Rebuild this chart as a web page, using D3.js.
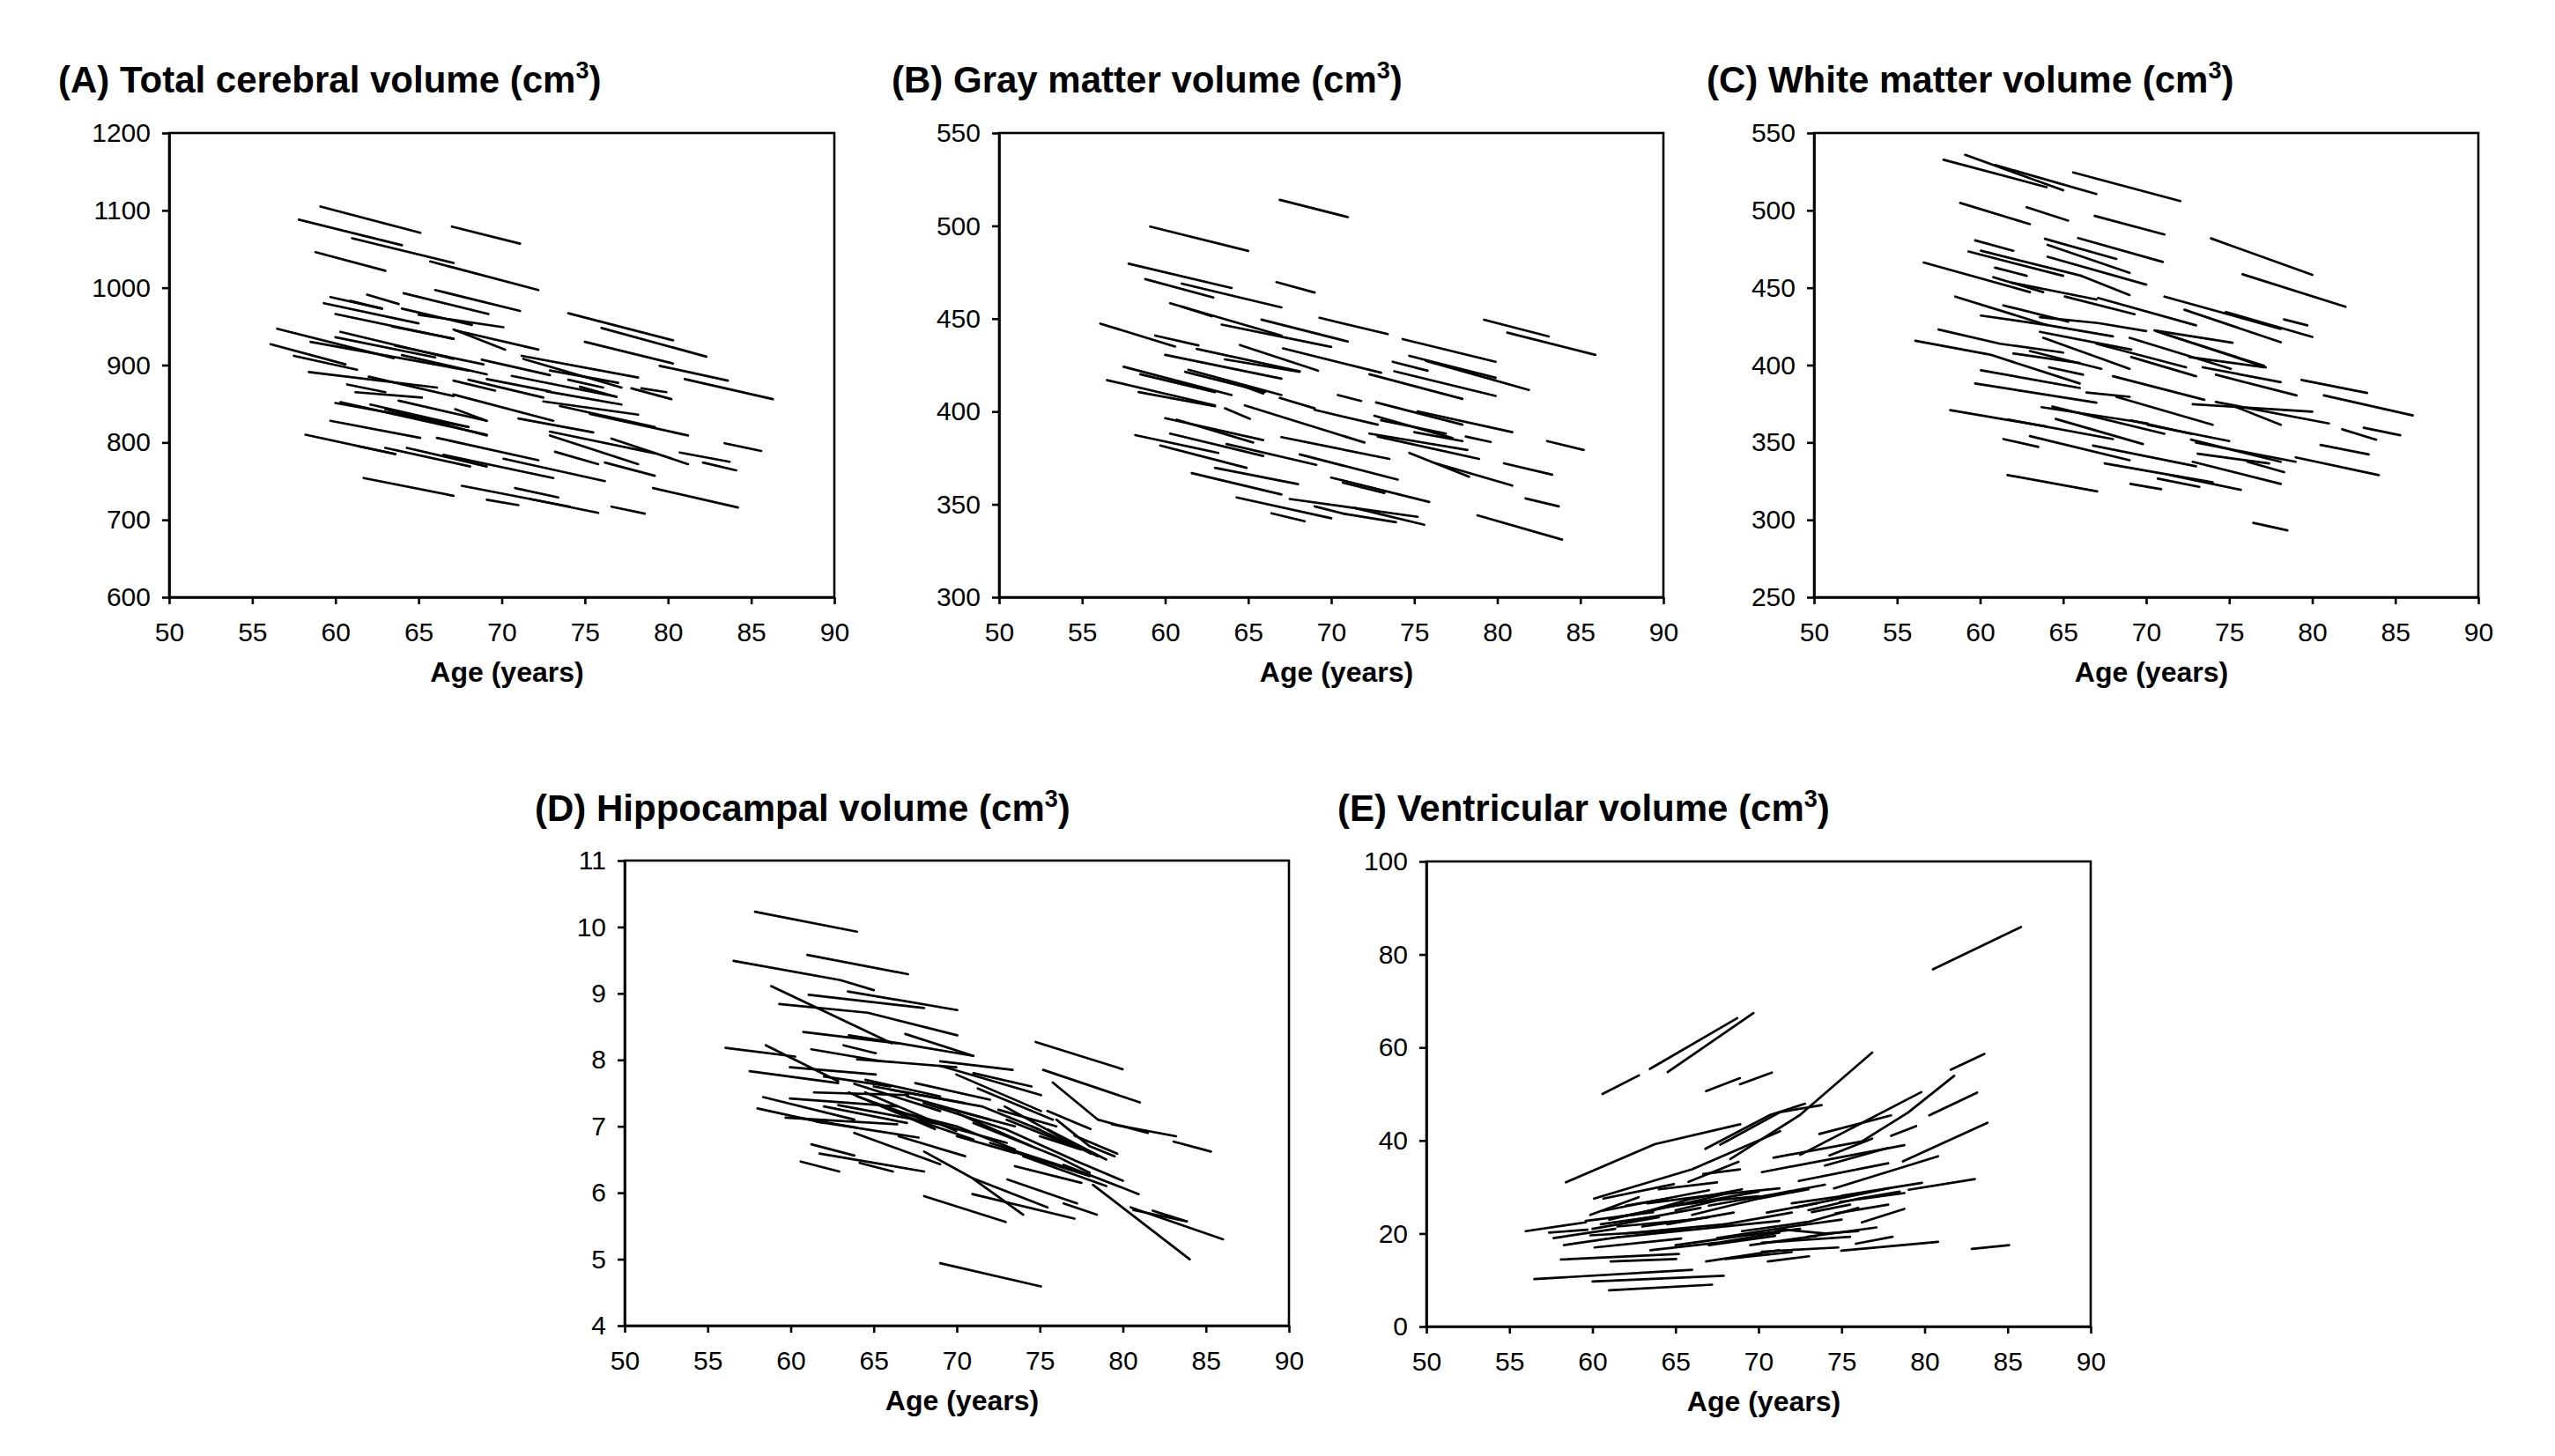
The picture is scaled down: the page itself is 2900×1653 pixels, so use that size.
<!DOCTYPE html>
<html><head><meta charset="utf-8">
<script src="https://cdn.jsdelivr.net/npm/d3@7"></script>
<style>
body{margin:0;background:#fff}
text{font-family:"Liberation Sans",Arial,Helvetica,sans-serif;fill:#000}
</style>
</head><body>
<svg id="chart" width="2900" height="1653"></svg>
<script>
// ---------- DATA (age, volume pairs per subject trajectory) ----------
const ageTicks = [50,55,60,65,70,75,80,85,90];
const ticksA = [600,700,800,900,1000,1100,1200];
const ticksB = [300,350,400,450,500,550];
const ticksC = [250,300,350,400,450,500,550];
const ticksD = [4,5,6,7,8,9,10,11];
const ticksE = [0,20,40,60,80,100];

const titlesList = ["(A) Total cerebral volume (cm","(B) Gray matter volume (cm","(C) White matter volume (cm","(D) Hippocampal volume (cm","(E) Ventricular volume (cm"];
const xLabel = "Age (years)";

const totalCerebral = [
[59.1,1105,65.1,1071],[57.8,1088,64.0,1055],[67.0,1079,71.1,1057],[61.0,1064,67.1,1032],[58.8,1046,63.0,1022],
[65.7,1034,72.2,997],[66.0,997,71.1,970],[61.9,991,63.8,979],[64.1,993,69.2,966],[59.7,988,62.8,973],
[60.9,983,62.8,973],[59.3,980,65.0,954],[64.0,973,68.2,952],[65.0,965,70.1,949],[60.0,966,67.1,934],
[63.4,950,67.1,934],[67.2,945,72.2,920],[74.0,967,80.3,932],[76.0,948,82.3,911],[75.0,930,80.3,902],
[56.5,947,63.5,909],[60.3,943,67.1,908],[60.0,936,66.0,910],[58.5,930,68.0,893],[56.1,927,60.6,901],
[57.5,912,61.3,894],[63.6,925,68.9,901],[64.0,913,69.1,888],[67.1,946,70.2,920],[68.8,907,72.9,887],
[71.2,912,78.2,884],[71.3,908,77.2,871],[72.9,893,77.0,877],[74.0,881,76.1,871],[78.4,870,79.9,865],
[79.5,899,83.6,880],[81.0,882,86.3,856],[58.4,891,66.1,871],[62.0,885,67.1,860],[60.7,875,63.0,865],
[61.2,865,65.2,858],[67.1,880,69.6,867],[68.0,881,72.5,858],[69.1,882,72.9,866],[70.6,886,76.9,859],
[74.7,872,76.9,859],[72.7,866,77.2,849],[77.8,870,80.2,856],[67.1,862,73.1,828],[63.8,854,69.1,828],
[72.5,853,78.2,836],[73.5,847,79.2,820],[75.3,837,81.2,809],[60.0,851,68.0,820],[60.3,852,69.1,810],
[62.1,849,68.0,820],[63.0,843,69.1,809],[67.2,843,69.1,828],[71.0,831,75.5,813],[72.9,814,79.2,786],
[72.9,809,78.2,772],[59.7,828,65.1,806],[58.2,810,63.6,785],[61.4,795,63.6,785],[63.0,793,68.1,769],
[64.3,793,69.1,769],[66.1,806,72.2,777],[66.5,784,73.1,754],[70.1,779,76.2,750],[73.2,788,75.8,772],
[76.2,774,79.2,757],[80.7,787,83.7,775],[83.4,799,85.6,789],[82.1,774,84.1,764],[61.7,754,67.1,731],
[67.6,744,74.1,717],[70.8,741,73.4,729],[69.1,726,71.0,719],[71.7,727,75.8,709],[76.6,717,78.6,708],
[79.1,741,84.2,716],[76.6,805,81.2,772]
];

const grayMatter = [
[66.9,514,71.0,504.7],[59.1,499.6,65.0,486.5],[57.8,479.6,64.0,466.5],[58.8,471.3,62.9,461.4],[61.0,468.9,67.0,456.1],
[66.7,469.7,69.0,464.1],[61.0,456.5,62.8,451.3],[60.3,458.3,67.0,440.9],[65.8,449.5,71.0,437.7],[63.4,446.8,70.0,434.8],
[69.3,450.5,73.4,441.7],[79.2,449.4,83.1,440.4],[80.6,442.5,85.9,430.5],[56.1,447.3,60.6,435],[59.4,440.9,62.0,435.6],
[61.9,433.7,68.1,421.7],[64.5,435.8,69.2,422],[67.1,434,73.0,420.9],[60.0,430.5,67.0,417.7],[63.6,428.1,68.1,421.4],
[74.3,439,79.9,426.8],[74.7,430,79.9,418.2],[75.7,427.3,81.9,411.6],[73.7,426.8,75.8,422],[72.3,420.1,77.9,406.8],
[73.8,421.7,79.9,408.4],[57.5,424.1,64.0,408.9],[58.5,420.1,63.0,410.5],[61.4,422.5,67.0,408.9],[61.2,421.4,66.0,410.5],
[56.5,416.9,63.0,403.3],[58.4,410.5,63.0,402.8],[64.2,415.3,65.9,409.7],[64.8,403.3,72.0,383.3],[63.6,401.7,65.1,396.1],
[66.9,407.3,69.0,401.7],[69.0,400.9,72.8,392.9],[70.4,408.9,71.8,405.7],[72.7,404.9,77.9,392.9],[75.2,400.1,80.9,388.9],
[72.6,397.7,77.3,385.7],[73.0,395.3,76.9,388.1],[72.3,388.1,78.2,379.3],[72.8,386.5,78.9,374.5],[75.0,388.9,77.9,384.1],
[78.1,386.5,79.6,383.6],[83.0,384.1,85.2,379.3],[74.7,377.7,78.3,364.9],[76.3,372.1,80.9,360.1],[80.4,372.1,83.3,366],
[81.7,353.2,83.7,348.9],[78.8,344.1,83.9,331],[60.0,396.4,65.9,384.6],[60.7,395.6,65.3,383.3],[58.2,387.3,63.2,377.7],
[60.3,388.1,65.9,376.1],[59.7,381.7,64.9,369.7],[63.7,382.5,69.1,371.3],[67.0,386.2,73.5,374.5],[68.1,376.9,74.0,363.3],
[63.0,369.7,68.0,360.9],[61.6,366.8,67.0,355.3],[70.0,364.4,75.9,351.3],[70.7,361.7,73.2,356.1],[64.3,353.7,70.0,342.5],
[67.5,352.9,75.2,343.3],[69.0,348.9,70.8,344.9],[66.4,345.2,68.4,340.9],[71.4,348.1,75.6,339],[70.8,344.9,73.9,340.4]
];

const whiteMatter = [
[59.1,535.9,65.0,513],[57.8,532.7,64.0,515],[60.9,529.3,67.0,510.6],[65.6,524.5,72.05,506],[58.8,504.8,63.0,491.1],
[62.8,502,65.3,493.4],[66.9,496.4,71.1,484.4],[73.9,481.9,80.0,458.3],[75.8,458.7,82.0,437.7],[59.7,480.6,62.0,473.9],
[63.9,481.6,68.2,468.6],[65.9,482.1,71.0,466.7],[64.06,477.7,69.0,459.6],[59.3,473.4,65.0,457.7],[60.05,473.9,66.1,457.7],
[64.06,470,70.0,452],[56.6,466.3,63.0,447.2],[60.9,463,62.8,457.7],[60.8,456.8,63.8,447.2],[66.1,457.7,69.0,445.3],
[61.9,453.3,67.0,442.4],[65.1,444.3,69.3,432.9],[67.1,443.4,73.0,425.7],[71.1,444.3,78.1,423.4],[72.3,435.8,78.1,414.8],
[74.8,434.3,80.0,418.2],[78.3,429.5,79.7,425.7],[58.5,444.3,64.06,425.8],[61.4,438.6,65.3,428.1],[63.6,431,67.1,427.2,70.0,422.0],
[60.05,432,64.06,425.8,68.0,418.6],[70.5,422.4,75.2,414.4],[70.6,422,77.2,398.6],[71.0,420.5,77.1,399.5],[57.5,423,61.2,413.8,65.0,408.1],
[56.1,415.7,60.6,406.8,66.0,388.1],[63.6,421.5,69.1,410],[63.8,417.6,69.0,397.6],[67.0,413.8,72.4,398.6],[69.0,417.6,75.1,397.6],
[72.6,405.2,77.1,398.6],[69.1,405.2,73.0,392.8],[63.0,409.1,67.3,397.6],[62.0,407.5,66.0,401.4],[64.15,398.6,66.2,393.8],
[73.4,398.6,78.1,389],[74.2,393.8,79.05,380.4],[60.05,396.7,66.0,385.2],[59.7,388.1,67.0,375.7],[68.0,392.8,73.5,377.6],
[66.4,382.3,69.0,379.5],[68.2,379.5,74.0,361.4],[72.8,374.7,80.0,369.9],[74.2,376.2,81.0,362.3],[75.2,373.8,78.1,361.4],
[79.35,390.4,83.3,382],[80.7,380.4,86.05,367.5],[81.8,358.5,83.85,351.8],[83.1,359.5,85.3,354.7],[80.5,348.4,83.4,342.3],
[79.0,340.4,84.0,328.9],[58.2,370.9,63.96,360.4],[61.7,364.8,68.0,352.2],[63.7,372.8,70.1,362.3],[64.35,373.2,71.1,355.6],
[64.55,365.2,69.8,349],[69.1,364.2,72.7,355.6],[70.1,361.4,75.0,350.9],[72.7,351.8,78.1,337.5],[73.0,349.9,79.0,337.5],
[61.4,352.2,63.5,347.1],[63.0,354.1,69.0,338.5],[66.8,348,73.0,334.6],[73.1,342.7,77.4,336.5],[72.8,337.5,78.1,323.2],
[67.5,336.5,74.0,324.2],[76.1,337.5,78.3,330.8],[61.65,328.9,67.05,318.4],[69.05,323.2,70.9,319.8],[70.7,326.6,73.2,321.3],
[71.45,328.9,75.7,319.4],[76.45,298,78.5,293.2]
];

const hippocampal = [
[57.85,10.23,63.99,9.93],[61.0,9.58,67.06,9.29],[56.56,9.49,63.0,9.2,65.0,9.05],[58.82,9.11,66.09,8.25],[61.08,8.98,68.03,8.78],
[63.44,9.03,70.03,8.75],[59.31,8.84,64.64,8.71,70.03,8.37],[60.76,8.42,66.41,8.25],[63.5,8.37,66.5,8.25,71.0,8.06],[66.9,8.39,71.0,8.06],
[56.07,8.18,60.27,8.05],[58.5,8.22,62.86,7.68],[61.24,8.16,65.44,7.98],[63.18,8.22,65.12,8.10],[63.99,8.01,69.97,7.89],
[69.0,7.98,73.36,7.85],[69.0,7.91,75.07,7.47],[74.75,8.27,79.98,7.86],[75.2,7.85,81.02,7.36],[75.78,7.66,78.5,7.1,81.5,6.9],
[79.34,7.03,83.2,6.85],[83.05,6.77,85.3,6.62],[57.53,7.83,62.86,7.65],[59.95,7.89,65.12,7.78],[58.34,7.44,63.83,7.10],
[59.95,7.42,66.41,7.30],[61.4,7.51,67.06,7.47],[59.69,7.13,66.41,7.03],[61.57,7.07,67.7,6.83],[62.86,7.32,69.0,7.03],
[63.5,7.51,68.68,6.96],[63.83,7.64,69.0,7.23],[64.48,7.51,69.97,6.93],[63.83,6.90,69.0,6.43],[61.24,6.73,63.83,6.56],
[61.73,6.59,68.03,6.32],[60.6,6.47,62.92,6.32],[64.15,6.45,66.15,6.32],[68.03,6.62,70.94,6.22,74.0,5.67],[70.94,5.98,77.08,5.61],
[68.03,5.95,72.94,5.56],[70.94,6.22,75.46,5.78],[73.04,6.20,77.24,5.84],[76.43,5.84,78.43,5.67],[69.0,4.94,75.07,4.59],
[78.2,6.12,84.02,5.0],[80.47,5.78,86.03,5.30],[80.63,5.74,83.86,5.57],[81.8,5.73,83.7,5.58],[69.97,7.78,75.07,7.23],
[71.26,7.57,75.78,7.10],[72.88,7.30,78.05,6.59],[75.46,7.23,78.05,6.96],[77.08,6.86,79.66,6.59],[77.08,6.49,80.0,6.18],
[76.43,6.42,80.95,5.98],[65.0,7.6,70.5,7.35],[66.0,7.55,71.5,7.3,75.0,6.95],[67.0,7.45,72.0,7.1],[68.0,7.35,73.0,6.95,77.0,6.5],
[70.0,7.2,74.5,6.7],[71.0,7.05,76.0,6.55,78.0,6.3],[72.0,6.75,77.0,6.35],[73.0,6.65,78.0,6.25],[73.5,6.4,77.5,6.15],
[74.0,6.55,79.0,6.1],[70.0,6.85,73.5,6.6],[66.5,6.85,70.5,6.55],[62.0,7.3,67.0,7.05],[60.0,7.15,64.0,6.98],
[58.0,7.27,62.0,7.05],[64.0,7.45,68.0,7.1,73.0,6.75],[71.0,7.8,74.5,7.6],[72.5,7.25,76.0,7.0],[74.5,7.0,78.5,6.55],
[75.0,6.85,77.5,6.65],[65.5,7.3,67.5,7.1,71.0,6.8],[76.0,7.1,78.0,6.7,79.5,6.55],
[62.0,7.75,66.0,7.6],[64.5,7.7,69.0,7.45],[67.5,7.65,72.0,7.4],[66.0,7.25,70.0,7.0,73.5,6.65],[69.0,7.3,73.5,7.0],
[73.0,7.1,77.0,6.7],[75.5,6.95,79.0,6.5]
];

const ventricular = [
[80.5,76.8,85.8,85.9],[63.46,55.4,68.72,66.3],[64.53,54.7,69.69,67.4],[60.6,50.0,62.8,54.0],[66.84,50.6,68.88,53.4],
[68.88,52.1,70.8,54.6],[58.4,31.0,63.75,39.2,68.9,43.5],[66.8,38.2,70.7,45.5,72.8,47.9],[67.7,39.1,71.3,46.1,73.8,47.6],[68.3,36.0,72.5,45.5,76.84,58.9],
[81.57,55.2,83.6,58.6],[76.22,39.8,79.0,46.0,81.78,53.9],[80.28,45.4,83.16,50.3],[78.69,35.5,83.78,43.8],[72.51,36.9,79.8,50.4],
[73.66,41.4,77.98,45.4],[77.98,41.0,79.49,43.1],[74.27,36.8,76.84,40.4],[74.0,34.6,77.8,38.4],[70.9,36.3,76.22,39.8],
[70.2,33.2,78.78,39.0],[72.42,31.3,77.81,35.1],[79.04,29.4,83.02,31.7],[74.54,29.7,80.81,36.6],[74.98,28.1,79.84,30.9],
[72.24,25.6,77.81,29.7],[74.9,26.8,78.78,28.7],[73.21,24.6,75.51,26.2],[74.63,24.3,77.81,26.2],[76.22,22.4,78.78,25.3],
[72.95,19.3,77.1,21.3],[70.2,18.0,75.51,19.3],[70.2,16.1,74.8,17.0],[70.56,14.0,73.04,15.1],[75.86,17.8,78.07,19.3],
[74.98,16.3,80.81,18.2],[82.84,16.7,85.09,17.5],[65.78,31.1,68.79,35.4],[60.1,27.5,66.0,33.8,71.3,42.0],[60.66,27.5,64.9,30.6],
[66.67,32.8,68.88,33.8],[59.87,24.0,62.78,27.8],[60.66,24.9,67.02,29.3],[59.6,22.7,63.66,24.6],[63.31,26.5,66.84,28.1,71.26,29.7],
[55.98,20.5,59.6,22.4],[57.39,20.2,59.69,20.8],[57.66,19.0,61.37,21.0],[59.87,19.6,65.78,20.8],[58.28,17.5,61.54,19.2],
[60.13,17.0,65.34,18.9],[61.54,19.2,66.5,21.0,71.26,22.7],[63.49,16.4,67.5,18.0,71.26,20.2],[58.1,14.4,65.2,15.6],[61.1,14.0,65.04,14.5],
[56.5,10.2,66.0,12.2],[60.0,9.7,67.9,10.9],[61.0,7.8,67.2,9.0],[66.84,14.0,71.26,16.4],[61.5,23.5,65.0,26.0,68.0,28.5],
[62.0,22.5,66.5,25.5],[64.0,25.5,67.0,27.0,70.0,28.0],[66.0,24.0,70.0,27.5,73.0,29.5],[67.0,26.0,71.0,28.5,74.0,30.5],[68.0,22.0,72.0,24.5],
[69.0,20.5,73.0,22.5,76.0,25.5],[67.0,17.5,71.0,19.5],[65.0,17.5,69.0,19.5,72.5,21.0],[71.0,21.0,74.0,20.0,76.0,20.5],[68.0,14.5,72.0,16.0],
[72.0,26.5,75.0,28.0],[73.0,25.0,76.0,27.5,78.5,29.0],[64.0,29.5,67.5,31.0],[62.0,26.0,64.5,27.5],[70.5,24.5,73.5,26.5],
[60.5,22.0,63.5,23.5],
[60.0,21.0,64.0,23.5],[61.0,23.0,65.5,26.5],[62.5,24.0,66.0,27.5,69.0,29.5],[63.0,21.5,67.0,23.5],[64.5,22.0,68.5,24.5],
[65.0,25.0,68.0,27.5],[61.5,21.5,66.0,23.0],[66.0,26.5,70.0,29.0],[62.0,20.0,68.0,22.0],[67.5,19.0,72.0,21.5,75.0,23.0],
[69.5,17.5,73.5,19.5]
];

// ---------- LAYOUT ----------
const layout = [
  {data: totalCerebral, ticks: ticksA, left:192, right:947,  top:151, bottom:678,  tx:66,   ty:105},
  {data: grayMatter,    ticks: ticksB, left:1134, right:1888, top:151, bottom:678, tx:1012, ty:105},
  {data: whiteMatter,   ticks: ticksC, left:2059, right:2813, top:151, bottom:678, tx:1937, ty:105},
  {data: hippocampal,   ticks: ticksD, left:709,  right:1463, top:977, bottom:1505, tx:607, ty:932},
  {data: ventricular,   ticks: ticksE, left:1619, right:2373, top:978, bottom:1506, tx:1518, ty:932}
];

const svg = d3.select("#chart");
svg.append("rect").attr("width",2900).attr("height",1653).attr("fill","#fff");

const toPts = arr => d3.range(0, arr.length, 2).map(i => [arr[i], arr[i+1]]);
const fmt = d => String(d);

layout.forEach((p, i) => {
  const x = d3.scaleLinear().domain([ageTicks[0], ageTicks[ageTicks.length-1]]).range([p.left, p.right]);
  const y = d3.scaleLinear().domain([p.ticks[0], p.ticks[p.ticks.length-1]]).range([p.bottom, p.top]);
  const g = svg.append("g");

  // title
  const t = g.append("text").attr("x", p.tx).attr("y", p.ty)
    .attr("font-size", 42).attr("font-weight", "bold").text(titlesList[i]);
  t.append("tspan").attr("font-size", 27).attr("dy", -16).text("3");
  t.append("tspan").attr("dy", 16).text(")");

  // trajectories
  const line = d3.line().x(d => x(d[0])).y(d => y(d[1]));
  g.append("g").selectAll("path").data(p.data).join("path")
    .attr("d", d => line(toPts(d)))
    .attr("fill", "none").attr("stroke", "#000").attr("stroke-width", 2.7)
    .attr("stroke-linecap", "round").attr("stroke-linejoin", "round");

  // axes
  const ax = g.append("g").attr("transform", `translate(0,${p.bottom})`)
    .call(d3.axisBottom(x).tickValues(ageTicks).tickFormat(fmt).tickSize(8).tickSizeOuter(0).tickPadding(21));
  const ay = g.append("g").attr("transform", `translate(${p.left},0)`)
    .call(d3.axisLeft(y).tickValues(p.ticks).tickFormat(fmt).tickSize(8).tickSizeOuter(0).tickPadding(13));
  [ax, ay].forEach(a => {
    a.select(".domain").attr("stroke", "#000").attr("stroke-width", 2.6);
    a.selectAll(".tick line").attr("stroke", "#000").attr("stroke-width", 2.6);
    a.selectAll(".tick text").attr("font-size", 30).attr("fill", "#000")
      .style("font-family", '"Liberation Sans", Arial, sans-serif');
  });

  // frame
  g.append("rect").attr("x", p.left).attr("y", p.top)
    .attr("width", p.right - p.left).attr("height", p.bottom - p.top)
    .attr("fill", "none").attr("stroke", "#000").attr("stroke-width", 2.6);

  // x label
  g.append("text").attr("x", (p.left + p.right) / 2 + 6).attr("y", p.bottom + 96)
    .attr("text-anchor", "middle").attr("font-size", 32).attr("font-weight", "bold").text(xLabel);
});
</script>
</body></html>
